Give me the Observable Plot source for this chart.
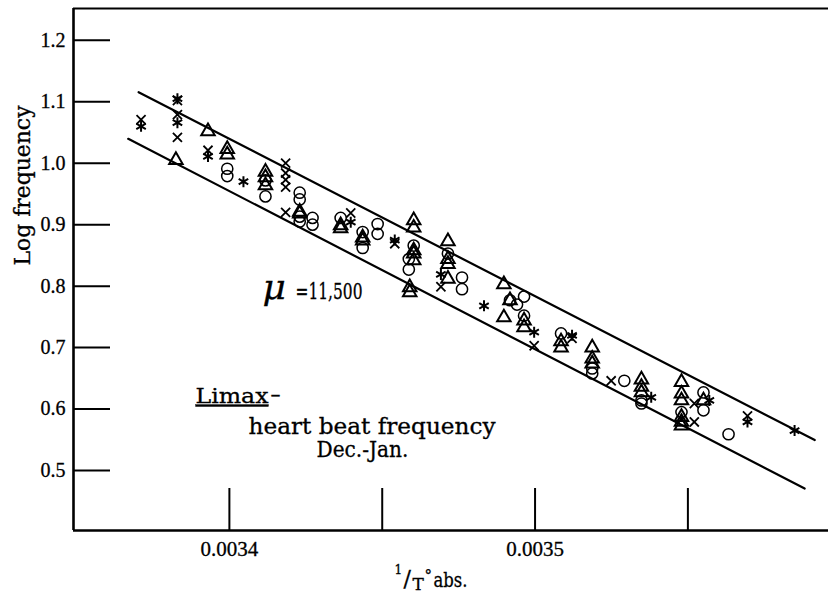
<!DOCTYPE html>
<html><head><meta charset="utf-8">
<script src="https://cdn.jsdelivr.net/npm/d3@7"></script>
<script src="https://cdn.jsdelivr.net/npm/@observablehq/plot@0.6"></script>
<style>body{margin:0;background:#fff}</style>
</head><body><div id="chart"></div>
<script>
// ---- data (x = 1/T abs., y = log frequency) ----
const crosses = [
  [0.0033711,1.071],[0.0033830,1.102],[0.0033830,1.079],[0.0033830,1.042],
  [0.0033930,1.021],[0.0034184,1.000],[0.0034184,0.984],[0.0034184,0.973],
  [0.0034184,0.961],[0.0034184,0.920],[0.0034397,0.919],[0.0034541,0.869],
  [0.0034692,0.799],[0.0034997,0.703],[0.0035121,0.715],[0.0035249,0.646],
  [0.0035521,0.579],[0.0035521,0.609],[0.0035695,0.589]
];
const asterisks = [
  [0.0033711,1.060],[0.0033830,1.105],[0.0033830,1.066],[0.0033930,1.011],
  [0.0034046,0.970],[0.0034397,0.904],[0.0034541,0.875],[0.0034692,0.819],
  [0.0034833,0.768],[0.0034997,0.725],[0.0035121,0.720],[0.0035380,0.619],
  [0.0035570,0.614],[0.0035695,0.579],[0.0035849,0.565]
];
const triangles = [
  [0.0033825,1.005],[0.0033930,1.052],[0.0033993,1.023],[0.0033993,1.014],
  [0.0034118,0.986],[0.0034118,0.977],[0.0034118,0.964],[0.0034230,0.921],
  [0.0034230,0.918],[0.0034364,0.899],[0.0034364,0.894],[0.0034436,0.879],
  [0.0034436,0.874],[0.0034603,0.907],[0.0034603,0.895],[0.0034603,0.858],
  [0.0034603,0.853],[0.0034603,0.842],[0.0034590,0.798],[0.0034590,0.790],
  [0.0034715,0.873],[0.0034715,0.844],[0.0034715,0.836],[0.0034715,0.812],
  [0.0034898,0.803],[0.0034918,0.777],[0.0034898,0.749],[0.0034964,0.744],
  [0.0034964,0.733],[0.0035085,0.710],[0.0035085,0.700],[0.0035187,0.700],
  [0.0035187,0.682],[0.0035187,0.674],[0.0035348,0.648],[0.0035348,0.636],
  [0.0035348,0.627],[0.0035479,0.644],[0.0035479,0.625],[0.0035479,0.614],
  [0.0035479,0.587],[0.0035479,0.579],[0.0035479,0.573],[0.0035551,0.614]
];
const circles = [
  [0.0033993,0.991],[0.0033993,0.979],[0.0034118,0.972],[0.0034118,0.946],
  [0.0034230,0.952],[0.0034230,0.941],[0.0034230,0.913],[0.0034230,0.905],
  [0.0034272,0.911],[0.0034272,0.900],[0.0034364,0.911],[0.0034436,0.888],
  [0.0034436,0.862],[0.0034485,0.901],[0.0034485,0.885],[0.0034603,0.866],
  [0.0034587,0.844],[0.0034587,0.827],[0.0034715,0.853],[0.0034761,0.814],
  [0.0034761,0.795],[0.0034918,0.777],[0.0034964,0.783],[0.0034941,0.770],
  [0.0034964,0.752],[0.0035085,0.723],[0.0035187,0.666],[0.0035187,0.658],
  [0.0035292,0.646],[0.0035348,0.614],[0.0035348,0.609],[0.0035479,0.595],
  [0.0035551,0.627],[0.0035551,0.598],[0.0035633,0.559]
];
const upperLine = [[0.0033703,1.1155],[0.0035915,0.5496]];
const lowerLine = [[0.0033669,1.0397],[0.0035882,0.4707]];
const xTicks = [0.0034,0.00345,0.0035,0.00355];
const xTickLabels = [0.0034,0.0035];
const yTicks = [0.5,0.6,0.7,0.8,0.9,1.0,1.1,1.2];
const xDomain = [0.003349,0.003596];
const yDomain = [0.4024,1.2517];

const F = "'DejaVu Serif', 'Liberation Serif', serif";
const FN = "'Liberation Serif', serif";
const pts = a => a.map(([x,y]) => ({x,y}));

const W = 828, H = 592, mL = 73, mR = 0, mT = 8, mB = 62;
const frameH = H - mT - mB, frameW = W - mL - mR;
const cx = frameW / 2;

const note = (s, dx, dy, size, extra = {}) =>
  Plot.text([s], {frameAnchor: "top-left", dx, dy, textAnchor: "start", lineAnchor: "bottom", fontSize: size, fontFamily: F, ...extra});
const xlab = (s, x, base, size) =>
  Plot.text([s], {frameAnchor: "bottom", dx: x - (mL + cx), dy: base - (H - mB), textAnchor: "start", lineAnchor: "bottom", fontSize: size, fontFamily: F});

const chart = Plot.plot({
  width: W, height: H,
  marginLeft: mL, marginRight: mR, marginTop: mT, marginBottom: mB,
  style: {fontFamily: F, background: "#fff", color: "#000"},
  x: {domain: xDomain, axis: null},
  y: {domain: yDomain, axis: null},
  marks: [
    Plot.ruleY([yDomain[0]], {stroke: "#000", strokeWidth: 2.6}),
    Plot.ruleX([xDomain[0]], {stroke: "#000", strokeWidth: 2.6}),
    Plot.ruleY([yDomain[1]], {stroke: "#000", strokeWidth: 2}),
    Plot.tickX(xTicks, {x: d => d, insetTop: frameH - 42, stroke: "#000", strokeWidth: 2}),
    Plot.tickY(yTicks, {y: d => d, insetRight: frameW - 37, stroke: "#000", strokeWidth: 2}),
    Plot.axisX({ticks: xTickLabels, tickSize: 0, tickPadding: 11, label: null, tickFormat: d => d.toFixed(4), fontSize: 21, fontFamily: FN}),
    Plot.axisY({ticks: yTicks, tickSize: 0, tickPadding: 8, label: null, tickFormat: d => d.toFixed(1), fontSize: 20, fontFamily: FN}),
    Plot.line(pts(upperLine), {x: "x", y: "y", stroke: "#000", strokeWidth: 2.2}),
    Plot.line(pts(lowerLine), {x: "x", y: "y", stroke: "#000", strokeWidth: 2.2}),
    Plot.dot(pts(circles), {x: "x", y: "y", symbol: "circle", r: 5.6, stroke: "#000", strokeWidth: 1.5, fill: "none"}),
    Plot.dot(pts(triangles), {x: "x", y: "y", symbol: "triangle", r: 5, stroke: "#000", strokeWidth: 2, fill: "none"}),
    Plot.dot(pts(crosses), {x: "x", y: "y", symbol: "times", r: 4.2, stroke: "#000", strokeWidth: 1.8}),
    Plot.dot(pts(asterisks), {x: "x", y: "y", symbol: "asterisk", r: 5.2, stroke: "#000", strokeWidth: 2}),
    Plot.text(["Log frequency"], {frameAnchor: "left", dx: -51, dy: -4, rotate: -90, fontSize: 23, fontFamily: F}),
    xlab("1", 394, 573, 12),
    xlab("/", 403, 585, 22),
    xlab("T", 412, 589, 17),
    xlab("°", 424, 579, 15),
    xlab("abs.", 433, 586, 21),
    note("μ", 189, 290, 36, {fontStyle: "italic"}),
    note("=11,500", 222, 290, 23),
    note("Limax", 122, 394, 21),
    note("–", 197, 392, 20),
    note("heart beat frequency", 175, 425, 22),
    note("Dec.-Jan.", 243, 448, 22)
  ]
});
const fit = {"Limax": 73, "heart beat frequency": 247, "Dec.-Jan.": 92, "=11,500": 67, "Log frequency": 160, "abs.": 34};
d3.select(chart).selectAll("text").each(function(){
  const t = this.textContent;
  if (fit[t]) d3.select(this).attr("textLength", fit[t]).attr("lengthAdjust", "spacingAndGlyphs");
  if (t === "Limax") d3.select(this).style("text-decoration", "underline");
  d3.select(this).style("stroke", "#000").style("stroke-width", "0.3px");
});
document.getElementById("chart").appendChild(chart);
</script>
</body></html>
